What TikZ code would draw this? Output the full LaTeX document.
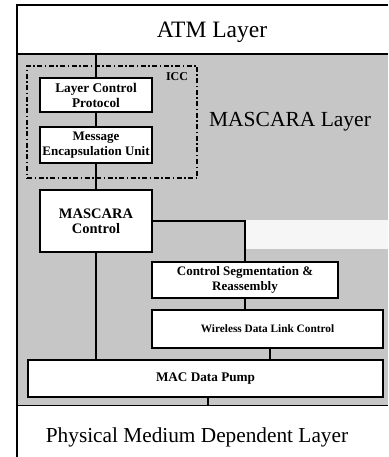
\documentclass[tikz,border=0pt]{standalone}
\usepackage{fontspec}
\setmainfont{Liberation Serif}
\definecolor{bgray}{RGB}{198,198,198}
\begin{document}
\begin{tikzpicture}[x=1pt,y=-1pt,
  blk/.style={draw=black, line width=1.8pt, fill=white, align=center, inner sep=0pt},
  fs/.style={font=\fontsize{#1}{15}\selectfont\bfseries},
  conn/.style={line width=1.5pt},
  frame/.style={line width=1.6pt}]
\useasboundingbox (0,0) rectangle (388,457);
% background regions
\fill[bgray] (17,54) rectangle (388,405);
\fill[white!85!bgray] (245,220) rectangle (388,249);
% frame
\draw[frame] (17,457) -- (17,5) -- (388,5);
\draw[frame] (17,54) -- (388,54);
\draw[line width=1pt] (17,405) -- (388,405);
% layer titles
\node[font=\fontsize{23.5}{26}\selectfont] (atm) at (212,32) {ATM Layer};
\node[font=\fontsize{21.5}{24}\selectfont] (masl) at (290,122) {MASCARA Layer};
\node[font=\fontsize{21.3}{24}\selectfont] (pmd) at (197,437) {Physical Medium Dependent Layer};
% ICC box
\node[draw=black, line width=1.4pt, dash pattern=on 5pt off 2.5pt on 1.5pt off 2.5pt,
  minimum width=170pt, minimum height=112pt, inner sep=0pt] (icc) at (112,122) {};
\node[font=\fontsize{12}{13}\selectfont\bfseries, inner sep=0pt] (icclab) at (177,77) {ICC};
% coordinates
\coordinate (atmb) at (96,54);
\coordinate (pmdt) at (208,405);
\coordinate (xw) at (270,0);
% blocks
\node[blk, fs=13.3, minimum width=112pt, minimum height=34pt] (lcp) at (96,95) {Layer Control\\Protocol};
\node[blk, fs=13, minimum width=112pt, minimum height=36pt] (meu) at (96,145) {Message\\Encapsulation Unit};
\node[blk, fs=14.5, minimum width=112pt, minimum height=62pt] (mc) at (96,221) {MASCARA\\Control};
\node[blk, fs=13, minimum width=186pt, minimum height=36pt] (csr) at (245,280) {Control Segmentation \&\\Reassembly};
\node[blk, fs=11.3, minimum width=231pt, minimum height=38pt] (wdlc) at (267.5,329) {Wireless Data Link Control};
\node[blk, fs=13.2, minimum width=355pt, minimum height=37pt] (mac) at (205.5,378.5) {MAC Data Pump};
% connectors
\draw[conn] (atmb) -- (lcp.north);
\draw[conn] (lcp.south) -- (meu.north);
\draw[conn] (meu.south) -- (mc.north);
\draw[conn] (mc.south) -- (mc.south |- mac.north);
\draw[conn] (mc.east) -| (csr.north);
\draw[conn] (csr.south) -- (csr.south |- wdlc.north);
\draw[conn] (wdlc.south -| xw) -- (mac.north -| xw);
\draw[conn] (mac.south -| pmdt) -- (pmdt);
\end{tikzpicture}
\end{document}
